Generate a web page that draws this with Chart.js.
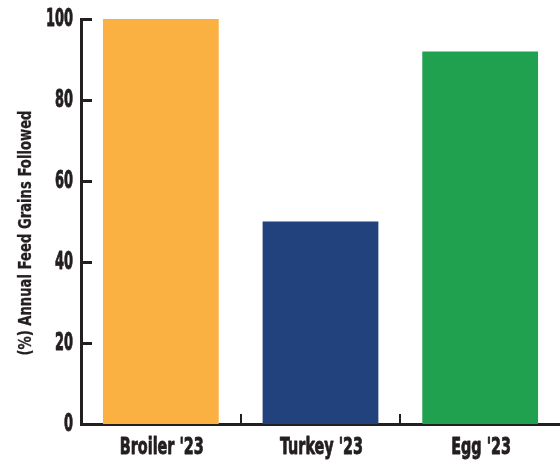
<!DOCTYPE html>
<html>
<head>
<meta charset="utf-8">
<script src="https://cdn.jsdelivr.net/npm/chart.js@4"></script>
<style>
  html, body { margin: 0; padding: 0; background: #fff; }
  #wrap { width: 560px; height: 462px; }
</style>
</head>
<body>
<div id="wrap"><canvas id="feedChart"></canvas></div>
<script>
// chart data
const categories = ["Broiler '23", "Turkey '23", "Egg '23"];
const feedValues = [100, 50, 92];
const barColors = ['#FBB042', '#21427C', '#1FA14F'];
const yTicks = [0, 20, 40, 60, 80, 100];
const yTitle = '(%) Annual Feed Grains Followed';

const ink = '#231f20';
const fontFamily = '"DejaVu Sans", sans-serif';

// no condensed font installed, so labels are drawn squeezed sideways
function narrowText(ctx, text, x, y, font, squeeze, align, weight) {
    ctx.save();
    ctx.font = font;
    ctx.textAlign = align;
    ctx.translate(x, y);
    ctx.scale(squeeze, 1);
    ctx.fillText(text, 0, 0);
    if (weight) {
        ctx.lineWidth = weight;
        ctx.lineJoin = 'round';
        ctx.strokeText(text, 0, 0);
    }
    ctx.restore();
}

const axisDecor = {
    id: 'axisDecor',
    afterDraw(chart) {
        const ctx = chart.ctx;
        const x = chart.scales.x, y = chart.scales.y;
        ctx.save();
        ctx.strokeStyle = ink;
        ctx.fillStyle = ink;

        // inward tick marks on y
        ctx.lineWidth = 3;
        yTicks.forEach(v => {
            const py = Math.round(y.getPixelForValue(v)) + 0.5;
            ctx.beginPath();
            ctx.moveTo(x.left, py);
            ctx.lineTo(x.left + 11, py);
            ctx.stroke();
        });
        // inward tick marks between categories
        ctx.lineWidth = 2;
        for (let i = 1; i < categories.length; i++) {
            const px = Math.round((x.getPixelForValue(i - 1) + x.getPixelForValue(i)) / 2);
            ctx.beginPath();
            ctx.moveTo(px, y.bottom);
            ctx.lineTo(px, y.bottom - 10);
            ctx.stroke();
        }

        // y tick labels
        ctx.textBaseline = 'middle';
        const yFont = 'bold 24px ' + fontFamily;
        ctx.font = yFont;
        const ySq = 27 / ctx.measureText('100').width;
        yTicks.forEach(v => {
            narrowText(ctx, String(v), x.left - 8, y.getPixelForValue(v) + 1, yFont, ySq, 'right', 0.9);
        });

        // category labels
        ctx.textBaseline = 'alphabetic';
        const xFont = 'bold 23px ' + fontFamily;
        ctx.font = xFont;
        const xSq = 84 / ctx.measureText(categories[0]).width;
        categories.forEach((c, i) => {
            narrowText(ctx, c, x.getPixelForValue(i) + 1, y.bottom + 30, xFont, xSq, 'center', 0.9);
        });

        // rotated axis title
        const tFont = 'bold 18px ' + fontFamily;
        ctx.font = tFont;
        const tSq = 245 / ctx.measureText(yTitle).width;
        ctx.translate(31, 233);
        ctx.rotate(-Math.PI / 2);
        narrowText(ctx, yTitle, 0, 0, tFont, tSq, 'center', 0.3);
        ctx.restore();
    }
};

const ctx = document.getElementById('feedChart').getContext('2d');
const feedChart = new Chart(ctx, {
    type: 'bar',
    data: {
        labels: categories,
        datasets: [{
            label: 'Annual Feed Grains Followed',
            data: feedValues,
            backgroundColor: barColors,
            borderWidth: 0,
            categoryPercentage: 1,
            barPercentage: 0.725
        }]
    },
    options: {
        responsive: true,
        maintainAspectRatio: false,
        animation: false,
        layout: { padding: { top: 19, right: 0, left: 81, bottom: 38 } },
        plugins: {
            legend: { display: false },
            tooltip: { enabled: false }
        },
        scales: {
            x: {
                grid: { display: false, drawTicks: false, tickLength: 0 },
                border: { display: true, color: ink, width: 3 },
                ticks: { display: false }
            },
            y: {
                min: 0,
                max: 100,
                afterBuildTicks: axis => { axis.ticks = yTicks.map(v => ({ value: v })); },
                grid: { display: false, drawTicks: false, tickLength: 0 },
                border: { display: true, color: ink, width: 3 },
                ticks: { display: false }
            }
        }
    },
    plugins: [axisDecor]
});
</script>
</body>
</html>
